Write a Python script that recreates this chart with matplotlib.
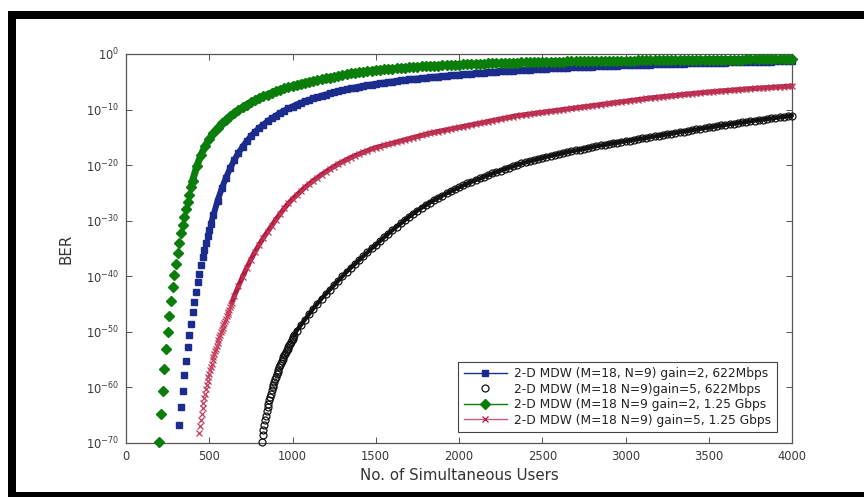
import numpy as np
import matplotlib
matplotlib.use("Agg")
import matplotlib.pyplot as plt
from matplotlib.patches import Rectangle
from matplotlib.lines import Line2D

plt.rcParams['font.family'] = ['DejaVu Sans']
plt.rcParams['mathtext.default'] = 'regular'

# ---------------- data (log10 BER) ----------------
labels = ["2-D MDW (M=18, N=9) gain=2, 622Mbps",
          "2-D MDW (M=18 N=9)gain=5, 622Mbps",
          "2-D MDW (M=18 N=9 gain=2, 1.25 Gbps",
          "2-D MDW (M=18 N=9) gain=5, 1.25 Gbps"]

# users grids: steep start (finer steps) followed by the dense band (step 25)
users_blue = np.concatenate([np.arange(320, 511, 10), np.arange(525, 4001, 25)])
users_black = np.concatenate([np.arange(815, 1011, 5), np.arange(1025, 4001, 25)])
users_green = np.concatenate([np.arange(200, 391, 10), np.arange(400, 4001, 25)])
users_red = np.concatenate([np.arange(440, 636, 5), np.arange(650, 4001, 25)])
steep_count = {'blue': 20, 'black': 40, 'green': 20, 'red': 40}

logber_blue = [
    -66.8, -63.6, -60.6, -57.8, -55.2, -52.8, -50.6, -48.5, -46.5, -44.6,
    -42.8, -41.1, -39.5, -38.0, -36.6, -35.3, -34.0, -32.8, -31.7, -30.6,
    -29.0, -26.4, -24.2, -22.3, -20.6, -19.1, -17.8, -16.7, -15.7, -14.8,
    -14.0, -13.3, -12.7, -12.1, -11.6, -11.1, -10.6, -10.2, -9.8, -9.45,
    -9.1, -8.8, -8.5, -8.25, -8.0, -7.75, -7.5, -7.3, -7.1, -6.9,
    -6.7, -6.5, -6.35, -6.2, -6.05, -5.9, -5.75, -5.6, -5.5, -5.4,
    -5.28, -5.17, -5.06, -4.96, -4.86, -4.76, -4.67, -4.58, -4.5, -4.42,
    -4.34, -4.26, -4.19, -4.12, -4.05, -3.98, -3.92, -3.86, -3.8, -3.74,
    -3.67, -3.61, -3.55, -3.49, -3.43, -3.37, -3.31, -3.25, -3.19, -3.14,
    -3.09, -3.04, -2.99, -2.94, -2.89, -2.85, -2.81, -2.77, -2.73, -2.68,
    -2.64, -2.6, -2.56, -2.53, -2.49, -2.46, -2.42, -2.39, -2.35, -2.32,
    -2.29, -2.26, -2.23, -2.2, -2.17, -2.14, -2.11, -2.08, -2.06, -2.03,
    -2.0, -1.98, -1.96, -1.93, -1.91, -1.89, -1.86, -1.84, -1.82, -1.8,
    -1.78, -1.76, -1.74, -1.72, -1.7, -1.68, -1.66, -1.64, -1.62, -1.6,
    -1.58, -1.56, -1.55, -1.53, -1.51, -1.5, -1.48, -1.46, -1.45, -1.43,
    -1.42, -1.4, -1.39, -1.37, -1.36, -1.34, -1.33, -1.31, -1.3, -1.28,
]

logber_black = [
    -69.8, -68.6, -67.6, -66.7, -65.9, -65.1, -64.3, -63.6, -62.9, -62.3,
    -61.7, -61.1, -60.5, -60.0, -59.5, -59.0, -58.5, -58.1, -57.6, -57.2,
    -56.8, -56.4, -56.0, -55.6, -55.3, -54.9, -54.6, -54.2, -53.9, -53.6,
    -53.3, -53.0, -52.7, -52.4, -52.1, -51.8, -51.5, -51.2, -50.9, -50.6,
    -49.8, -48.8, -47.8, -46.8, -45.8, -44.9, -44.0, -43.2, -42.4, -41.6,
    -40.8, -40.0, -39.2, -38.5, -37.8, -37.1, -36.4, -35.7, -35.0, -34.4,
    -33.7, -33.0, -32.35, -31.7, -31.1, -30.5, -29.9, -29.3, -28.75, -28.2,
    -27.7, -27.2, -26.75, -26.3, -25.9, -25.5, -25.1, -24.7, -24.35, -24.0,
    -23.65, -23.3, -23.0, -22.7, -22.4, -22.1, -21.8, -21.5, -21.25, -21.0,
    -20.7, -20.45, -20.2, -19.95, -19.7, -19.5, -19.3, -19.1, -18.9, -18.7,
    -18.5, -18.35, -18.15, -18.0, -17.85, -17.65, -17.5, -17.35, -17.2, -17.05,
    -16.9, -16.75, -16.6, -16.45, -16.35, -16.2, -16.05, -15.95, -15.8, -15.7,
    -15.57, -15.45, -15.32, -15.2, -15.07, -14.95, -14.82, -14.7, -14.57, -14.45,
    -14.32, -14.2, -14.07, -13.95, -13.82, -13.7, -13.58, -13.46, -13.34, -13.22,
    -13.1, -12.98, -12.86, -12.75, -12.64, -12.53, -12.42, -12.31, -12.2, -12.1,
    -12.0, -11.9, -11.8, -11.7, -11.6, -11.5, -11.4, -11.3, -11.2, -11.1,
]

logber_green = [
    -69.9, -64.8, -60.6, -56.6, -53.1, -50.0, -47.1, -44.4, -42.0, -39.8,
    -37.7, -35.8, -34.0, -32.3, -30.8, -29.3, -27.9, -26.6, -25.3, -24.0,
    -22.8, -20.2, -18.2, -16.6, -15.3, -14.2, -13.3, -12.5, -11.8, -11.2,
    -10.6, -10.1, -9.6, -9.1, -8.7, -8.3, -7.95, -7.6, -7.3, -7.0,
    -6.7, -6.45, -6.2, -5.95, -5.75, -5.55, -5.35, -5.15, -5.0, -4.85,
    -4.7, -4.55, -4.4, -4.25, -4.1, -3.95, -3.8, -3.65, -3.5, -3.4,
    -3.3, -3.2, -3.1, -3.0, -2.92, -2.84, -2.77, -2.7, -2.63, -2.57,
    -2.51, -2.45, -2.39, -2.34, -2.29, -2.24, -2.19, -2.15, -2.11, -2.07,
    -2.03, -1.99, -1.95, -1.92, -1.89, -1.86, -1.83, -1.8, -1.77, -1.74,
    -1.72, -1.69, -1.67, -1.64, -1.62, -1.6, -1.58, -1.56, -1.54, -1.52,
    -1.5, -1.48, -1.46, -1.45, -1.43, -1.41, -1.4, -1.38, -1.37, -1.35,
    -1.34, -1.33, -1.31, -1.3, -1.29, -1.28, -1.27, -1.26, -1.25, -1.24,
    -1.23, -1.22, -1.21, -1.2, -1.19, -1.18, -1.17, -1.16, -1.15, -1.14,
    -1.13, -1.13, -1.12, -1.11, -1.1, -1.1, -1.09, -1.08, -1.07, -1.07,
    -1.06, -1.05, -1.05, -1.04, -1.03, -1.03, -1.02, -1.02, -1.01, -1.0,
    -1.0, -0.99, -0.99, -0.98, -0.98, -0.97, -0.97, -0.96, -0.96, -0.95,
    -0.95, -0.94, -0.94, -0.93, -0.93,
]

logber_red = [
    -68.2, -67.0, -65.8, -64.7, -63.7, -62.8, -61.9, -61.1, -60.3, -59.6,
    -58.9, -58.2, -57.5, -56.9, -56.3, -55.7, -55.1, -54.6, -54.0, -53.5,
    -53.0, -52.5, -52.0, -51.5, -51.0, -50.6, -50.1, -49.7, -49.3, -48.8,
    -48.4, -48.0, -47.6, -47.2, -46.8, -46.4, -46.0, -45.6, -45.2, -44.8,
    -43.6, -41.8, -40.1, -38.5, -37.0, -35.6, -34.3, -33.1, -32.0, -30.9,
    -29.8, -28.8, -27.8, -26.9, -26.1, -25.4, -24.7, -24.0, -23.4, -22.8,
    -22.25, -21.7, -21.2, -20.7, -20.25, -19.8, -19.4, -19.0, -18.65, -18.3,
    -18.0, -17.7, -17.4, -17.1, -16.85, -16.65, -16.45, -16.25, -16.05, -15.85,
    -15.65, -15.45, -15.25, -15.05, -14.85, -14.65, -14.45, -14.25, -14.1, -13.95,
    -13.8, -13.65, -13.5, -13.35, -13.2, -13.05, -12.9, -12.75, -12.6, -12.45,
    -12.3, -12.15, -12.0, -11.85, -11.7, -11.55, -11.4, -11.25, -11.1, -11.0,
    -10.9, -10.8, -10.7, -10.6, -10.5, -10.4, -10.3, -10.2, -10.1, -10.0,
    -9.9, -9.8, -9.7, -9.6, -9.5, -9.4, -9.3, -9.2, -9.1, -9.0,
    -8.9, -8.8, -8.7, -8.6, -8.5, -8.4, -8.3, -8.2, -8.1, -8.0,
    -7.92, -7.84, -7.76, -7.68, -7.6, -7.52, -7.44, -7.36, -7.28, -7.2,
    -7.13, -7.06, -6.99, -6.92, -6.85, -6.78, -6.72, -6.66, -6.6, -6.54,
    -6.48, -6.42, -6.36, -6.3, -6.25, -6.2, -6.15, -6.1, -6.05, -6.0,
    -5.95, -5.9, -5.86, -5.82, -5.78,
]

xticks = [0, 500, 1000, 1500, 2000, 2500, 3000, 3500, 4000]
yticks_exp = [-70, -60, -50, -40, -30, -20, -10, 0]

# ---------------- figure ----------------
W, H = 864, 497
fig = plt.figure(figsize=(W / 100, H / 100), dpi=100)
fig.patch.set_facecolor('white')

def fbar(x0, y0, x1, y1):
    fig.add_artist(Rectangle((x0 / W, 1 - y1 / H), (x1 - x0) / W, (y1 - y0) / H,
                             transform=fig.transFigure, facecolor='black',
                             edgecolor='none', zorder=10))
fbar(8, 11, 864, 19)
fbar(8, 11, 16, 497)
fbar(8, 492, 864, 497)

ax = fig.add_axes([126 / W, 1 - 443 / H, (792 - 126) / W, (443 - 54) / H])

frame_col = '#555555'
blue = '#1b2c8c'
green = '#0b7d0b'
red = '#b3183f'
black = '#111111'

series = [
    ('blue', users_blue, logber_blue, blue,
     dict(marker='s', ms=4.3, mfc=blue, mec=blue), 4.3),
    ('black', users_black, logber_black, black,
     dict(marker='o', ms=5.0, mfc='none', mec=black, mew=0.9), 3.0),
    ('green', users_green, logber_green, green,
     dict(marker='D', ms=5.2, mfc=green, mec=green), 5.0),
    ('red', users_red, logber_red, red,
     dict(marker='x', ms=4.8, mew=0.9, mec='#c23a5a'), 3.6),
]

for z, (name, u, lv, col, mk, bandw) in enumerate(series):
    ber = 10.0 ** np.asarray(lv)
    n0 = steep_count[name] - 1
    # dense marker band (markers overlap into a solid band)
    ax.plot(u[n0:], ber[n0:], color=col, lw=bandw,
            solid_capstyle='round', zorder=2 + z, clip_on=False)
    ax.plot(u, ber, ls='none', zorder=2 + z, clip_on=False, **mk)

ax.set_yscale('log')
ax.set_xlim(0, 4000)
ax.set_ylim(1e-70, 1e0)
ax.set_xticks(xticks)
ax.set_yticks([10.0 ** e for e in yticks_exp])
ax.set_yticklabels([r'$10^{%d}$' % e for e in yticks_exp])
ax.yaxis.set_minor_locator(matplotlib.ticker.NullLocator())

ax.tick_params(direction='in', length=4, width=0.7, colors=frame_col,
               labelcolor='#3a3a3a', labelsize=8.3, top=True, right=True, pad=5)
for s in ax.spines.values():
    s.set_color(frame_col)
    s.set_linewidth(0.9)

ax.set_xlabel('No. of Simultaneous Users', fontsize=10.8, color='#333333', labelpad=4)
ax.set_ylabel('BER', fontsize=10.8, color='#333333', labelpad=9)

handles = [
    Line2D([], [], color=blue, lw=1.0, marker='s', ms=4.3, mfc=blue, mec=blue),
    Line2D([], [], ls='none', marker='o', ms=5.0, mfc='none', mec=black, mew=0.9),
    Line2D([], [], color=green, lw=1.0, marker='D', ms=5.2, mfc=green, mec=green),
    Line2D([], [], color='#c2607a', lw=1.0, marker='x', ms=4.8, mew=0.9, mec=red),
]
leg = ax.legend(handles, labels, loc='lower right', bbox_to_anchor=(0.9775, 0.028),
                borderaxespad=0, fontsize=8.85, frameon=True, fancybox=False,
                framealpha=1, edgecolor='#444444', handlelength=3.5,
                handletextpad=0.6, labelspacing=0.2, borderpad=0.45)
leg.get_frame().set_linewidth(0.8)
leg.set_zorder(20)
for t in leg.get_texts():
    t.set_color('#222222')

fig.savefig('out.png', dpi=100, facecolor='white')
